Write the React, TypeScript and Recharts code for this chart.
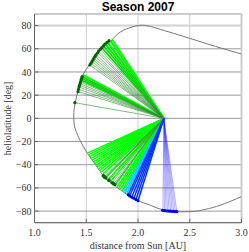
import { ComposedChart, Line, XAxis, YAxis, CartesianGrid, ReferenceLine } from "recharts";

// spacecraft path in (distance, heliolatitude)
const orbit: [number, number][] = [
  [3.0, 55.5], [2.75, 62], [2.5, 69], [2.3, 74.5], [2.15, 78.5], [2.05, 80.3],
  [1.95, 79], [1.83, 74.5], [1.76, 68.7], [1.7, 64], [1.63, 59], [1.57, 52],
  [1.53, 46], [1.47, 38], [1.44, 30], [1.42, 24], [1.395, 14], [1.38, 5],
  [1.383, -5], [1.405, -12], [1.44, -19], [1.51, -30], [1.59, -40], [1.67, -50],
  [1.76, -57], [1.85, -63], [1.92, -67], [2.0, -71], [2.12, -75], [2.24, -79],
  [2.35, -80.3], [2.45, -80.6], [2.55, -80.2], [2.65, -78.5], [2.8, -74.8], [3.0, -67.5],
];

// common origin of the connection lines
const origin = { r: 2.25, lat: 0 };

const upperThin: [number, number][] = [
  [1.39, 13.5],
  [1.42, 23], [1.425, 25], [1.43, 27], [1.435, 28.5], [1.44, 30], [1.445, 31.5],
  [1.45, 33], [1.455, 34.5], [1.46, 36],
  [1.535, 46], [1.545, 47.5], [1.555, 49], [1.565, 50.5], [1.575, 52], [1.585, 53.5],
  [1.595, 55], [1.61, 56.5], [1.62, 58], [1.635, 59.5], [1.65, 61], [1.665, 62.5],
  [1.68, 64], [1.7, 65.5], [1.72, 67],
];
const upperBright: [number, number][] = [
  [1.45, 33], [1.455, 34.5], [1.46, 36], [1.468, 37.5],
  [1.65, 61], [1.67, 62.5], [1.69, 64], [1.71, 65.5], [1.735, 67], [1.75, 68],
];
const lowerBright: [number, number][] = [
  [1.51, -30], [1.52, -31.5], [1.53, -33], [1.545, -34.5], [1.555, -36], [1.57, -37.5],
  [1.58, -39], [1.595, -40.5], [1.605, -42], [1.62, -43.5], [1.63, -45], [1.645, -46.5],
  [1.66, -48], [1.685, -51], [1.71, -53], [1.735, -54.5], [1.78, -57.5], [1.8, -59],
  [1.815, -60], [1.83, -61], [1.845, -62.5],
];
const lowerThin: [number, number][] = [
  [1.665, -49.5], [1.675, -50.5], [1.69, -51.5], [1.72, -53.5], [1.75, -55.5],
  [1.765, -56.5], [1.775, -57],
];
const cyanEnds: [number, number][] = [[1.86, -63.5], [1.875, -64.3], [1.89, -65]];
const blueEnds: [number, number][] = [
  [1.905, -66], [1.92, -67], [1.94, -68], [1.96, -69], [1.98, -70], [2.0, -71],
];
const bottomEnds: [number, number][] = [
  [2.24, -79.3], [2.255, -79.5], [2.27, -79.7], [2.285, -79.9], [2.3, -80],
  [2.315, -80.1], [2.33, -80.2], [2.345, -80.3], [2.36, -80.4], [2.375, -80.5],
];

const xTicks = [1.0, 1.5, 2.0, 2.5, 3.0];
const xMinorTicks = [1.1, 1.2, 1.3, 1.4, 1.6, 1.7, 1.8, 1.9, 2.1, 2.2, 2.3, 2.4, 2.6, 2.7, 2.8, 2.9];
const yTicks = [-80, -60, -40, -20, 0, 20, 40, 60, 80];
const yMinorTicks = [-85, -75, -70, -65, -55, -50, -45, -35, -30, -25, -15, -10, -5, 5, 10, 15, 25, 30, 35, 45, 50, 55, 65, 70, 75, 85];

const serif = "'Liberation Serif', 'DejaVu Serif', serif";
const tickStyle = { fill: "#333", fontSize: 10, fontFamily: serif };

function endDot(color: string, r: number) {
  return (p: any) =>
    p.index === 1 ? (
      <circle key={`d${p.index}`} cx={p.cx} cy={p.cy} r={r} fill={color} stroke="none" />
    ) : (
      <g key={`d${p.index}`} />
    );
}

function fan(
  name: string,
  ends: [number, number][],
  color: string,
  width: number,
  opacity = 1,
  dotColor?: string,
  dotR = 1.6,
) {
  return ends.map(([r, lat], i) => (
    <Line
      key={`${name}-${i}`}
      data={[origin, { r, lat }]}
      dataKey="lat"
      type="linear"
      stroke={color}
      strokeWidth={width}
      strokeOpacity={opacity}
      dot={dotColor ? endDot(dotColor, dotR) : false}
      activeDot={false}
      isAnimationActive={false}
    />
  ));
}

export default function App() {
  const orbitData = orbit.map(([r, lat]) => ({ r, lat }));
  return (
    <div style={{ position: "absolute", left: 0, top: 0, width: 249, height: 252, background: "#fff" }}>
      <div
        style={{
          position: "absolute",
          left: 34.5,
          width: 207,
          top: 0,
          textAlign: "center",
          fontFamily: "'Liberation Sans', Arial, sans-serif",
          fontWeight: "bold",
          fontSize: 12,
          lineHeight: "14px",
        }}
      >
        Season 2007
      </div>
      <ComposedChart width={249} height={252} margin={{ top: 14, right: 7.5, left: 0, bottom: 0 }}>
        <CartesianGrid horizontal={false} stroke="#cccccc" strokeWidth={1} />
        <CartesianGrid vertical={false} stroke="#999999" strokeWidth={1} />
        <XAxis
          xAxisId="minor"
          type="number"
          dataKey="r"
          domain={[1, 3]}
          ticks={xMinorTicks}
          tick={false}
          tickSize={-2}
          axisLine={false}
          tickLine={{ stroke: "#666" }}
          height={0}
          allowDataOverflow
        />
        <XAxis
          type="number"
          dataKey="r"
          domain={[1, 3]}
          ticks={xTicks}
          tickFormatter={(v: number) => v.toFixed(1)}
          tick={tickStyle}
          tickSize={-4}
          tickMargin={10.5}
          axisLine={{ stroke: "#666" }}
          tickLine={{ stroke: "#666" }}
          height={29.3}
          allowDataOverflow
          label={{ value: "distance from Sun [AU]", position: "insideBottom", offset: 3, style: { fill: "#333", fontSize: 10, fontFamily: serif } }}
        />
        <YAxis
          yAxisId="minor"
          type="number"
          dataKey="lat"
          domain={[-90, 90]}
          ticks={yMinorTicks}
          tick={false}
          tickSize={-2}
          axisLine={false}
          tickLine={{ stroke: "#666" }}
          width={0}
          allowDataOverflow
        />
        <YAxis
          type="number"
          dataKey="lat"
          domain={[-90, 90]}
          ticks={yTicks}
          tickFormatter={(v: number) => (v < 0 ? `\u2212${-v}` : `${v}`)}
          tick={tickStyle}
          tickSize={-4}
          tickMargin={7}
          axisLine={{ stroke: "#666" }}
          tickLine={{ stroke: "#666" }}
          width={34.5}
          allowDataOverflow
          label={{
            value: "heliolatitude [deg]",
            angle: -90,
            position: "insideLeft",
            offset: 7,
            style: { textAnchor: "middle", fill: "#333", fontSize: 10, fontFamily: serif },
          }}
        />
        <ReferenceLine y={80} stroke="#d4d4d4" strokeWidth={2} />
        <ReferenceLine y={90} stroke="#cccccc" strokeWidth={1} />
        <ReferenceLine x={3} stroke="#cccccc" strokeWidth={2} />
        <Line
          data={orbitData}
          dataKey="lat"
          type="natural"
          stroke="#777"
          strokeWidth={1}
          dot={false}
          activeDot={false}
          isAnimationActive={false}
        />
        {fan("ub", upperBright, "#00ff00", 1.8)}
        {fan("ut", upperThin, "#2f8f2f", 0.6, 1, "#006400", 1.6)}
        {fan("lb", lowerBright, "#00ff00", 1.5)}
        {fan("lt", lowerThin, "#4a7a4a", 0.6, 1, "#006400", 1.8)}
        {fan("cy", cyanEnds, "#00ccff", 1.5)}
        {fan("bl", blueEnds, "#0033ff", 1.5, 1, "#0000cc", 1.5)}
        {fan("bo", bottomEnds, "#2222ff", 0.8, 0.45, "#0000ff", 1.6)}
      </ComposedChart>
    </div>
  );
}
